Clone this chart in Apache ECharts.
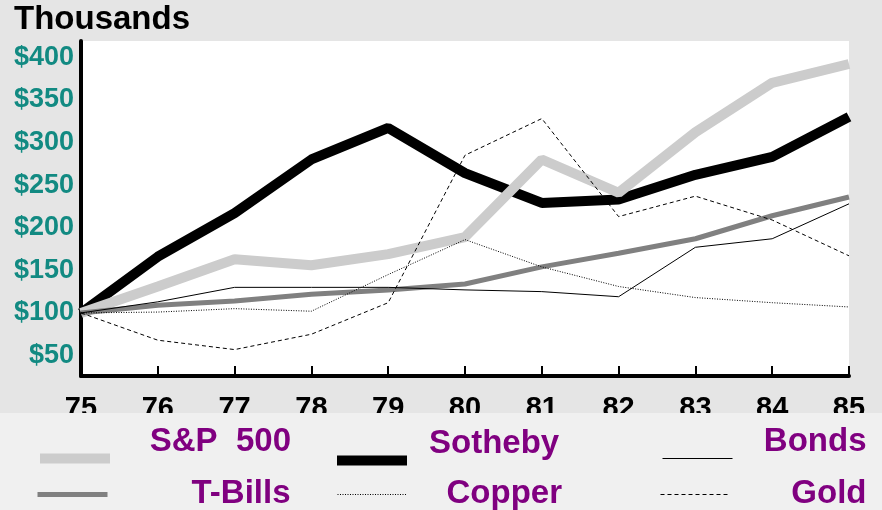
<!DOCTYPE html>
<html>
<head>
<meta charset="utf-8">
<script src="https://cdn.jsdelivr.net/npm/echarts@6/dist/echarts.min.js"></script>
<style>
  html, body { margin: 0; padding: 0; background: #e5e5e5; }
  #chart { width: 882px; height: 510px; }
</style>
</head>
<body>
<div id="chart"></div>
<script>
// values in thousands of dollars, 1975 = $100
var years = ['75', '76', '77', '78', '79', '80', '81', '82', '83', '84', '85'];
var sp500 = [100, 131, 163, 156, 169, 189, 280, 241, 312, 370, 392];
var sotheby = [100, 166, 217, 280, 317, 264, 229, 233, 262, 283, 330];
var tbills = [100, 109, 114, 122, 127, 134, 154, 170, 187, 214, 236];
var bonds = [100, 113, 130, 130, 130, 127, 125, 119, 177, 187, 228];
var copper = [100, 101, 105, 102, 145, 186, 154, 131, 118, 112, 107];
var gold = [100, 68, 57, 75, 112, 285, 328, 213, 237, 209, 167];
var yTicks = [50, 100, 150, 200, 250, 300, 350, 400];

var font = 'Liberation Sans, Arial, sans-serif';
var purple = '#800080';

function line(name, data, color, width, type) {
  return {
    name: name,
    type: 'line',
    data: data,
    symbol: 'none',
    silent: true,
    lineStyle: { color: color, width: width, type: type || 'solid' },
    itemStyle: { color: color }
  };
}

// one legend per entry so each can sit where the original puts it
function legendItem(name, left, top, textW, align, padLeft, padBottom) {
  return {
    data: [name],
    left: left,
    top: top,
    padding: 0,
    orient: 'horizontal',
    selectedMode: false,
    itemWidth: 70,
    itemHeight: 14,
    lineStyle: { width: 'inherit' },
    itemStyle: { color: 'transparent', borderWidth: 0 },
    formatter: '{t|{name}}',
    textStyle: {
      padding: [0, 0, padBottom, padLeft],
      rich: {
        t: {
          width: textW,
          align: align,
          fontFamily: font,
          fontWeight: 'bold',
          fontSize: 33,
          lineHeight: 30,
          color: purple
        }
      }
    }
  };
}

var chart = echarts.init(document.getElementById('chart'));
chart.setOption({
  backgroundColor: '#e5e5e5',
  animation: false,
  title: {
    text: 'Thousands',
    left: 14,
    top: 3,
    padding: 0,
    textStyle: { fontFamily: font, fontWeight: 'bold', fontSize: 33, color: '#000' }
  },
  grid: {
    left: 81, right: 33, top: 41, bottom: 134,
    show: true, backgroundColor: '#fff', borderWidth: 0
  },
  xAxis: {
    type: 'category',
    data: years,
    boundaryGap: false,
    axisLine: { lineStyle: { color: '#000', width: 4 } },
    axisTick: { inside: true, length: 10, lineStyle: { color: '#000', width: 2 } },
    axisLabel: {
      margin: 18,
      fontFamily: font, fontWeight: 'bold', fontSize: 29, color: '#000'
    },
    splitLine: { show: false }
  },
  yAxis: {
    type: 'value',
    min: 26,
    max: 419,
    axisLine: { show: true, lineStyle: { color: '#000', width: 4 } },
    axisTick: { show: false },
    splitLine: { show: false },
    axisLabel: {
      customValues: yTicks,
      margin: 7,
      fontFamily: font, fontWeight: 'bold', fontSize: 27, color: '#128a82',
      formatter: function (v) { return '$' + v; }
    }
  },
  legend: [
    legendItem('S&P  500', 35, 425, 176, 'right', 0, 34),
    legendItem('Sotheby', 332, 427, null, 'left', 17, 34),
    legendItem('Bonds', 662, 425, 129, 'right', 0, 34),
    legendItem('T-Bills', 35, 477, 178, 'right', 0, 2),
    legendItem('Copper', 337, 477, null, 'left', 34, 2),
    legendItem('Gold', 660, 477, 131, 'right', 0, 2)
  ],
  graphic: [{
    type: 'rect',
    z: 3,
    shape: { x: 0, y: 413, width: 882, height: 97 },
    style: { fill: '#f0f0f0' }
  }],
  series: [
    line('Sotheby', sotheby, '#000', 10),
    line('S&P  500', sp500, '#cccccc', 10),
    line('T-Bills', tbills, '#808080', 5),
    line('Bonds', bonds, '#000', 1),
    line('Copper', copper, '#000', 1, [1, 1.5]),
    line('Gold', gold, '#000', 1, [4, 3])
  ]
});
</script>
</body>
</html>
